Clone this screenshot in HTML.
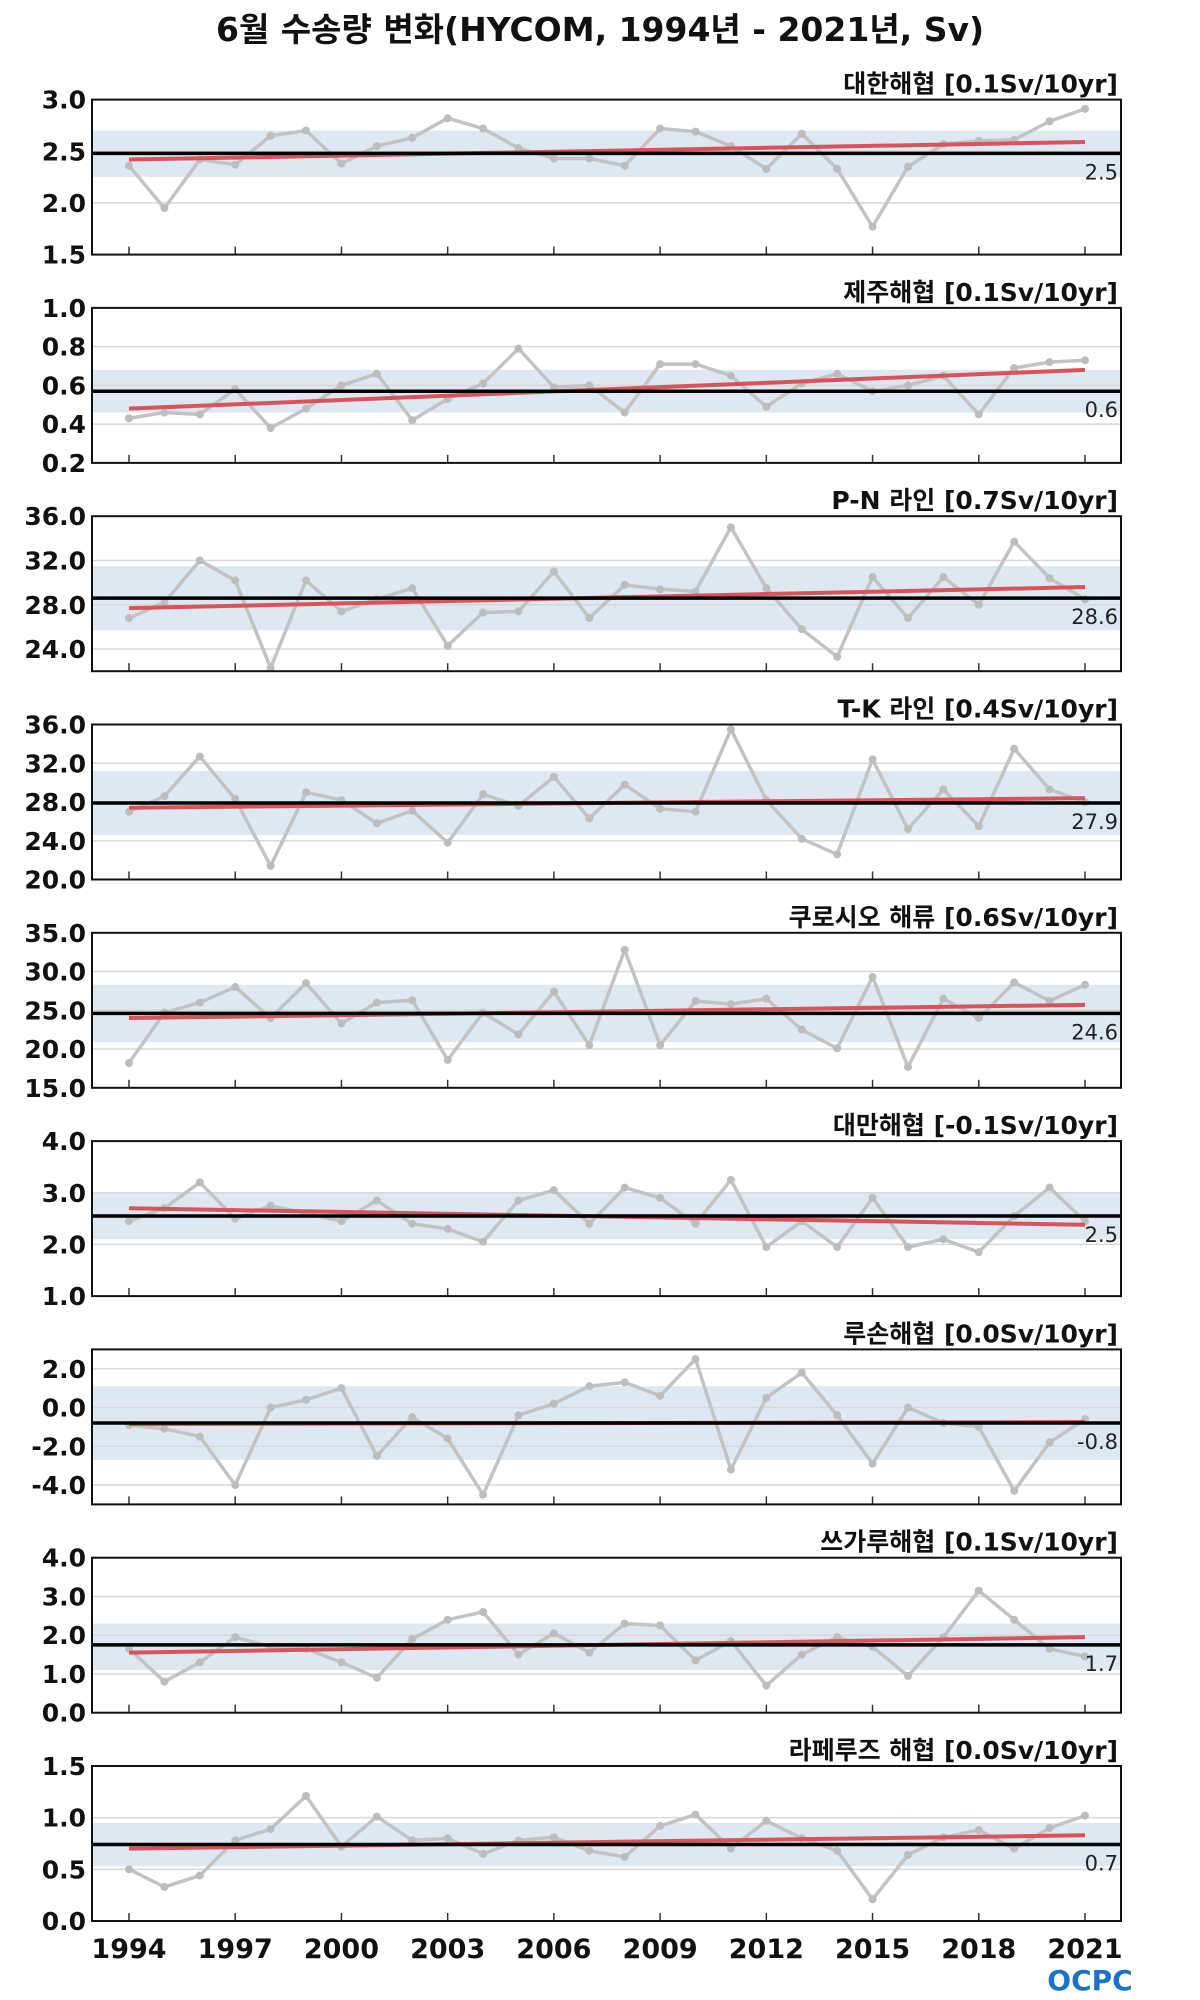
<!DOCTYPE html>
<html><head><meta charset="utf-8">
<style>
html,body{margin:0;padding:0;background:#fff;}
svg{display:block;font-family:"DejaVu Sans","Noto Sans CJK KR",sans-serif;}
</style></head>
<body>
<svg id="chart" width="1200" height="2000" viewBox="0 0 1200 2000" xmlns="http://www.w3.org/2000/svg">
<text x="600" y="41" text-anchor="middle" font-size="33" font-weight="bold" fill="#111">6월 수송량 변화(HYCOM, 1994년 - 2021년, Sv)</text>
<g id="panels"></g>
<text x="1090" y="1990" text-anchor="middle" font-size="28" font-weight="bold" fill="#1a73c8">OCPC</text>
</svg>
<script>
const years = [1994,1995,1996,1997,1998,1999,2000,2001,2002,2003,2004,2005,2006,2007,2008,2009,2010,2011,2012,2013,2014,2015,2016,2017,2018,2019,2020,2021];
const xTickYears = [1994,1997,2000,2003,2006,2009,2012,2015,2018,2021];
const panelTitles = ["대한해협 [0.1Sv/10yr]","제주해협 [0.1Sv/10yr]","P-N 라인 [0.7Sv/10yr]","T-K 라인 [0.4Sv/10yr]","쿠로시오 해류 [0.6Sv/10yr]","대만해협 [-0.1Sv/10yr]","루손해협 [0.0Sv/10yr]","쓰가루해협 [0.1Sv/10yr]","라페루즈 해협 [0.0Sv/10yr]"];
const yMin = [1.5,0.2,22,20,15,1,-5,0,0];
const yMax = [3.0,1.0,36,36,35,4,3,4,1.5];
const yTicks = [[1.5,2.0,2.5,3.0],[0.2,0.4,0.6,0.8,1.0],[24,28,32,36],[20,24,28,32,36],[15,20,25,30,35],[1,2,3,4],[-4,-2,0,2],[0,1,2,3,4],[0,0.5,1.0,1.5]];
const meanVals = [2.48,0.57,28.6,27.9,24.6,2.55,-0.8,1.75,0.74];
const meanLabels = ["2.5","0.6","28.6","27.9","24.6","2.5","-0.8","1.7","0.7"];
const bandLow = [2.25,0.46,25.7,24.6,20.9,2.1,-2.7,1.1,0.53];
const bandHigh = [2.70,0.68,31.5,31.2,28.3,3.0,1.1,2.3,0.95];
const trendStart = [2.42,0.48,27.7,27.4,24.0,2.70,-0.85,1.55,0.70];
const trendEnd = [2.59,0.68,29.6,28.4,25.7,2.38,-0.75,1.95,0.83];
const s1 = [2.36,1.95,2.42,2.37,2.65,2.70,2.38,2.55,2.63,2.82,2.72,2.53,2.43,2.43,2.36,2.72,2.69,2.55,2.33,2.67,2.33,1.77,2.35,2.57,2.60,2.61,2.79,2.91];
const s2 = [0.43,0.46,0.45,0.58,0.38,0.48,0.60,0.66,0.42,0.53,0.61,0.79,0.59,0.60,0.46,0.71,0.71,0.65,0.49,0.61,0.66,0.57,0.60,0.65,0.45,0.69,0.72,0.73];
const s3 = [26.8,28.2,32.0,30.2,22.3,30.2,27.4,28.5,29.5,24.3,27.3,27.4,31.0,26.8,29.8,29.4,29.2,35.0,29.5,25.8,23.3,30.5,26.8,30.5,28.0,33.7,30.4,28.5];
const s4 = [27.0,28.6,32.7,28.3,21.4,29.0,28.2,25.8,27.1,23.8,28.8,27.6,30.6,26.3,29.8,27.3,27.0,35.5,28.2,24.2,22.6,32.4,25.2,29.3,25.5,33.5,29.3,28.0];
const s5 = [18.2,24.7,26.0,28.0,24.0,28.5,23.3,26.0,26.3,18.6,24.7,21.9,27.4,20.5,32.8,20.5,26.2,25.8,26.5,22.5,20.1,29.3,17.7,26.5,24.0,28.6,26.2,28.3];
const s6 = [2.45,2.7,3.2,2.5,2.75,2.6,2.45,2.85,2.4,2.3,2.05,2.85,3.05,2.4,3.1,2.9,2.4,3.25,1.95,2.45,1.95,2.9,1.95,2.1,1.85,2.55,3.1,2.45];
const s7 = [-0.9,-1.1,-1.5,-4.0,0.0,0.4,1.0,-2.5,-0.5,-1.6,-4.5,-0.4,0.2,1.1,1.3,0.6,2.5,-3.2,0.5,1.8,-0.4,-2.9,0.0,-0.8,-1.0,-4.3,-1.8,-0.6];
const s8 = [1.65,0.8,1.3,1.95,1.7,1.65,1.3,0.9,1.9,2.4,2.6,1.5,2.05,1.55,2.3,2.25,1.35,1.85,0.7,1.5,1.95,1.7,0.95,1.95,3.15,2.4,1.65,1.45];
const s9 = [0.50,0.33,0.44,0.78,0.89,1.21,0.72,1.01,0.78,0.80,0.65,0.78,0.81,0.68,0.62,0.92,1.03,0.70,0.97,0.80,0.68,0.21,0.64,0.81,0.88,0.70,0.90,1.02];
const series = [s1,s2,s3,s4,s5,s6,s7,s8,s9];

const NS = "http://www.w3.org/2000/svg";
const L = 92, R = 1121, TOP0 = 99.6, STEP = 208.3, H = 155;
function xScale(yr){ return 129 + (yr - 1994) * (1085 - 129) / 27; }
function mk(tag, attrs, parent){
  const e = document.createElementNS(NS, tag);
  for (const k in attrs) e.setAttribute(k, attrs[k]);
  parent.appendChild(e); return e;
}
const root = document.getElementById('panels');
for (let i = 0; i < 9; i++){
  const top = TOP0 + i * STEP, bot = top + H;
  const yS = v => bot - (v - yMin[i]) / (yMax[i] - yMin[i]) * H;
  const g = mk('g', {}, root);
  
  
  const band = mk('rect', {x:L, y:yS(bandHigh[i]), width:R-L, height:yS(bandLow[i])-yS(bandHigh[i]), fill:'#dde8f2'}, g);
  
  
  yTicks[i].forEach(t => {
    const gl = mk('line', {x1:L, x2:R, y1:yS(t), y2:yS(t), stroke:'#d8d8d8', 'stroke-width':1.5}, g);
    
    
    const tl = mk('text', {x:L-6, y:yS(t)+9, 'text-anchor':'end', 'font-size':25, 'font-weight':'bold', fill:'#111'}, g);
    
    
    tl.textContent = t.toFixed(1);
  });
  xTickYears.forEach(yr => {
    const tk = mk('line', {x1:xScale(yr), x2:xScale(yr), y1:bot, y2:bot-8, stroke:'#333', 'stroke-width':1.5}, g);
    
    
  });
  const pts = series[i].map((v, j) => xScale(years[j]) + ',' + yS(v)).join(' ');
  const pl = mk('polyline', {points:pts, fill:'none', stroke:'#c3c3c3', 'stroke-width':3.5, 'stroke-linejoin':'round'}, g);
  
  
  series[i].forEach((v, j) => {
    const c = mk('circle', {cx:xScale(years[j]), cy:yS(v), r:4, fill:'#bdbdbd'}, g);
    
    
  });
  const tr = mk('line', {x1:xScale(1994), x2:xScale(2021), y1:yS(trendStart[i]), y2:yS(trendEnd[i]), stroke:'#d9535b', 'stroke-width':4}, g);
  
  
  const ml = mk('line', {x1:L, x2:R, y1:yS(meanVals[i]), y2:yS(meanVals[i]), stroke:'#000', 'stroke-width':3.5}, g);
  
  
  const mt = mk('text', {x:R-3, y:yS(meanVals[i])+26, 'text-anchor':'end', 'font-size':21, fill:'#222'}, g);
  
  
  mt.textContent = meanLabels[i];
  const fr = mk('rect', {x:L, y:top, width:R-L, height:H, fill:'none', stroke:'#111', 'stroke-width':2}, g);
  
  
  const pt = mk('text', {x:R-3, y:top-7, 'text-anchor':'end', 'font-size':25, 'font-weight':'bold', fill:'#111'}, g);
  
  
  pt.textContent = panelTitles[i];
}
xTickYears.forEach(yr => {
  const t = mk('text', {x:xScale(yr), y:1958, 'text-anchor':'middle', 'font-size':27, 'font-weight':'bold', fill:'#111'}, root);
  
  
  t.textContent = yr;
});
</script>
</body></html>
